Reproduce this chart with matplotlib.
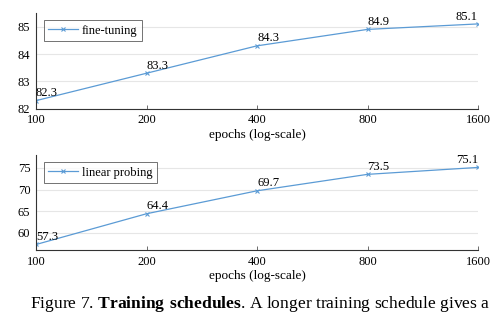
import matplotlib
matplotlib.use("Agg")
import matplotlib.pyplot as plt
import matplotlib.ticker as ticker

epochs = [100, 200, 400, 800, 1600]
ft_acc = [82.3, 83.3, 84.3, 84.9, 85.1]
lin_acc = [57.3, 64.4, 69.7, 73.5, 75.1]
ft_yticks = [82, 83, 84, 85]
lin_yticks = [60, 65, 70, 75]

LINE_COLOR = "#5B9BD5"
plt.rcParams["font.family"] = ["Liberation Serif", "DejaVu Serif"]
plt.rcParams["mathtext.fontset"] = "custom"
plt.rcParams["mathtext.rm"] = "Liberation Serif"
plt.rcParams["mathtext.bf"] = "Liberation Serif:bold"

fig = plt.figure(figsize=(5, 3.24), dpi=100)
ax1 = fig.add_axes([0.072, 0.664, 0.884, 0.296])
ax2 = fig.add_axes([0.072, 0.228, 0.884, 0.294])


def draw_panel(ax, values, label, ylim, yticks):
    ax.plot(epochs, values, color=LINE_COLOR, lw=0.9, marker="x",
            markersize=3.5, markeredgewidth=0.8, label=label)
    ax.set_xscale("log")
    ax.set_xlim(epochs[0], epochs[-1])
    ax.set_xticks(epochs)
    ax.xaxis.set_major_formatter(ticker.FixedFormatter([str(e) for e in epochs]))
    ax.xaxis.set_minor_locator(ticker.NullLocator())
    ax.set_ylim(*ylim)
    ax.set_yticks(yticks)
    ax.grid(axis="y", color="#e6e6e6", lw=0.8)
    ax.set_axisbelow(True)
    for s in ("top", "right"):
        ax.spines[s].set_visible(False)
    for s in ("left", "bottom"):
        ax.spines[s].set_color("#333333")
        ax.spines[s].set_linewidth(0.8)
    ax.tick_params(axis="x", direction="in", length=3, width=0.6,
                   labelsize=9, pad=4, color="#555555")
    ax.tick_params(axis="y", length=0, labelsize=9, pad=4)
    ax.set_xlabel("epochs (log-scale)", fontsize=9.5, labelpad=2)
    for i, (e, v) in enumerate(zip(epochs, values)):
        ha = "right" if i == len(epochs) - 1 else "left"
        ax.annotate(f"{v}", (e, v), xytext=(0, 1), textcoords="offset points",
                    ha=ha, va="bottom", fontsize=9)
    leg = ax.legend(loc="upper left", fontsize=9, frameon=True, fancybox=False,
                    borderpad=0.35, handlelength=2.4, handletextpad=0.3,
                    borderaxespad=0.6)
    leg.get_frame().set_edgecolor("#333333")
    leg.get_frame().set_linewidth(0.6)


draw_panel(ax1, ft_acc, "fine-tuning", (82, 85.5), ft_yticks)
draw_panel(ax2, lin_acc, "linear probing", (56, 78), lin_yticks)

fig.text(0.52, 0.062, r"Figure 7. $\mathbf{Training\ schedules}$. A longer training schedule gives a",
         ha="center", va="center", fontsize=12.6)

fig.savefig("out.png", dpi=100)
